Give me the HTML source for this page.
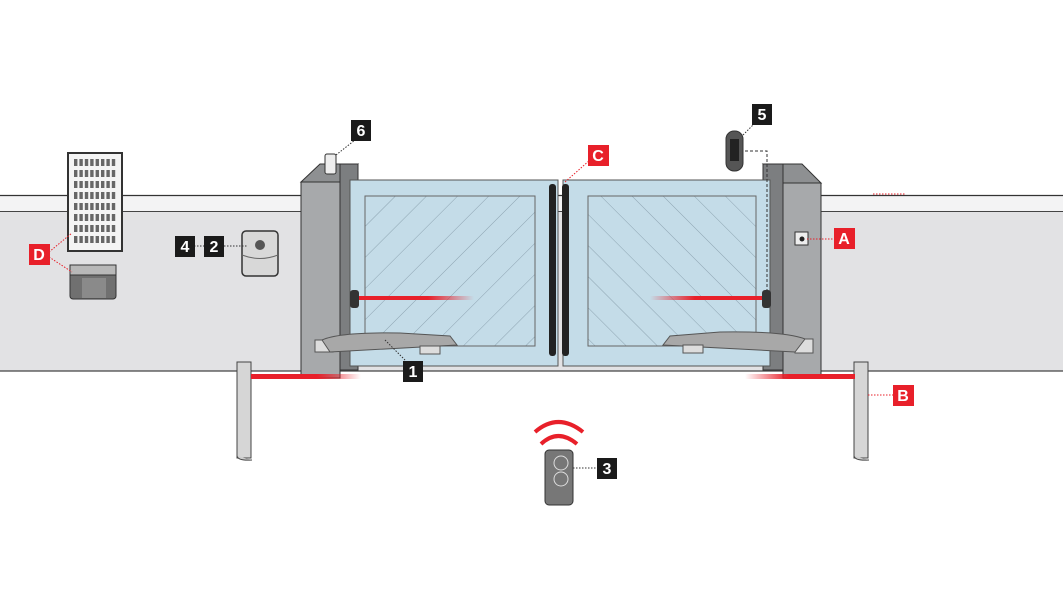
<!DOCTYPE html>
<html><head><meta charset="utf-8"><style>
html,body{margin:0;padding:0;background:#fff;width:1063px;height:591px;overflow:hidden}
text{font-family:"Liberation Sans",sans-serif;font-weight:bold;font-size:16px;fill:#fff}
</style></head><body>
<svg width="1063" height="591" viewBox="0 0 1063 591" xmlns="http://www.w3.org/2000/svg">
<defs>
<pattern id="h" patternUnits="userSpaceOnUse" width="22" height="22" patternTransform="rotate(45)">
<rect width="22" height="22" fill="#c4dce8"/><line x1="0" y1="0" x2="0" y2="22" stroke="#7f95a3" stroke-width="0.8"/></pattern>
<pattern id="h2" patternUnits="userSpaceOnUse" width="22" height="22" patternTransform="rotate(-45)">
<rect width="22" height="22" fill="#c4dce8"/><line x1="0" y1="0" x2="0" y2="22" stroke="#7f95a3" stroke-width="0.8"/></pattern>
<pattern id="cells" patternUnits="userSpaceOnUse" x="74" y="159" width="5.4" height="11">
<rect width="3.4" height="7" fill="#666"/></pattern>
<linearGradient id="rl" x1="0" x2="1"><stop offset="0" stop-color="#e8202a"/><stop offset="0.6" stop-color="#e8202a"/><stop offset="1" stop-color="#e8202a" stop-opacity="0"/></linearGradient>
<linearGradient id="rr" x1="1" x2="0"><stop offset="0" stop-color="#e8202a"/><stop offset="0.6" stop-color="#e8202a"/><stop offset="1" stop-color="#e8202a" stop-opacity="0"/></linearGradient>
</defs>
<rect x="0" y="195" width="1063" height="16" fill="#f3f3f4"/>
<rect x="0" y="211" width="1063" height="160" fill="#e2e2e4"/>
<line x1="0" y1="195.5" x2="1063" y2="195.5" stroke="#333" stroke-width="1.2"/>
<line x1="0" y1="211.5" x2="1063" y2="211.5" stroke="#444" stroke-width="1"/>
<line x1="0" y1="371" x2="1063" y2="371" stroke="#444" stroke-width="1.2"/>
<g>
<rect x="68" y="153" width="54" height="98" fill="#f4f4f4" stroke="#333" stroke-width="2"/>
<rect x="74" y="159" width="43" height="88" fill="url(#cells)"/>
<rect x="70" y="265" width="46" height="34" rx="3" fill="#707070" stroke="#333"/>
<rect x="70" y="265" width="46" height="10" fill="#b8b8b8" stroke="#333"/>
<rect x="82" y="278" width="24" height="20" fill="#8a8a8a"/>
</g>
<rect x="242" y="231" width="36" height="45" rx="4" fill="#d8d8d8" stroke="#333" stroke-width="1.5"/>
<path d="M242 255 Q260 262 278 255" stroke="#666" fill="none"/>
<circle cx="260" cy="245" r="5" fill="#555"/>
<polygon points="301,182 340,182 358,164 320,164" fill="#8e9092" stroke="#333"/>
<rect x="340" y="164" width="18" height="206" fill="#7c7e80" stroke="#333"/>
<rect x="301" y="182" width="39" height="196" fill="#a7a9ab" stroke="#333"/>
<rect x="325" y="154" width="11" height="20" rx="2" fill="#eee" stroke="#333"/>
<polygon points="763,164 802,164 821,183 783,183" fill="#8e9092" stroke="#333"/>
<rect x="763" y="164" width="20" height="206" fill="#7c7e80" stroke="#333"/>
<rect x="783" y="183" width="38" height="195" fill="#a7a9ab" stroke="#333"/>
<rect x="795" y="232" width="13" height="13" fill="#eee" stroke="#333"/><circle cx="802" cy="239" r="2.5" fill="#222"/>
<rect x="350" y="180" width="208" height="186" fill="#c4dce8" stroke="#555"/>
<rect x="365" y="196" width="170" height="150" fill="url(#h)" stroke="#666"/>
<rect x="563" y="180" width="207" height="186" fill="#c4dce8" stroke="#555"/>
<rect x="588" y="196" width="168" height="150" fill="url(#h2)" stroke="#666"/>
<rect x="549" y="184" width="7" height="172" rx="3" fill="#222"/>
<rect x="562" y="184" width="7" height="172" rx="3" fill="#222"/>
<rect x="350" y="290" width="9" height="18" rx="3" fill="#333"/>
<rect x="762" y="290" width="9" height="18" rx="3" fill="#333"/>
<rect x="359" y="296" width="115" height="4" fill="url(#rl)"/>
<rect x="650" y="296" width="112" height="4" fill="url(#rr)"/>
<rect x="315" y="340" width="18" height="12" fill="#ddd" stroke="#555"/>
<path d="M322 340 Q340 332 400 333 L450 336 L457 345 L330 352 Z" fill="#a8a8a8" stroke="#555"/>
<rect x="420" y="346" width="20" height="8" fill="#ddd" stroke="#555"/>
<rect x="795" y="339" width="18" height="14" fill="#ddd" stroke="#555"/>
<path d="M805 339 Q785 331 720 332 L670 336 L663 345 L795 352 Z" fill="#a8a8a8" stroke="#555"/>
<rect x="683" y="345" width="20" height="8" fill="#ddd" stroke="#555"/>
<rect x="726" y="131" width="17" height="40" rx="8" fill="#555" stroke="#333"/>
<rect x="730" y="139" width="9" height="22" fill="#222"/>
<path d="M745 151 H767 V294" stroke="#333" stroke-dasharray="3,2" fill="none"/>
<rect x="237" y="362" width="14" height="96" fill="#d6d6d6" stroke="#444"/>
<rect x="854" y="362" width="14" height="96" fill="#d6d6d6" stroke="#444"/>
<path d="M237 456 Q238 461 252 460" stroke="#444" fill="#ccc"/>
<path d="M854 456 Q855 461 869 460" stroke="#444" fill="#ccc"/>
<rect x="251" y="374" width="110" height="5" fill="url(#rl)"/>
<rect x="745" y="374" width="110" height="5" fill="url(#rr)"/>
<path d="M535 432 Q558 412 583 432" stroke="#e8202a" stroke-width="4" fill="none"/>
<path d="M541 444 Q558 428 577 444" stroke="#e8202a" stroke-width="4" fill="none"/>
<rect x="545" y="450" width="28" height="55" rx="4" fill="#777" stroke="#333"/>
<circle cx="561" cy="463" r="7" fill="none" stroke="#ddd"/><circle cx="561" cy="479" r="7" fill="none" stroke="#ddd"/>
<g stroke="#333" stroke-dasharray="1.5,1.5" fill="none">
<line x1="336" y1="155" x2="355" y2="140"/><line x1="743" y1="135" x2="756" y2="122"/>
<line x1="194" y1="246" x2="205" y2="246"/><line x1="224" y1="246" x2="248" y2="246"/>
<line x1="385" y1="340" x2="405" y2="360"/><line x1="573" y1="468" x2="597" y2="468"/>
</g>
<g stroke="#e8202a" stroke-dasharray="1.5,1.5" fill="none">
<line x1="49" y1="252" x2="72" y2="233"/><line x1="49" y1="257" x2="72" y2="272"/>
<line x1="565" y1="182" x2="590" y2="160"/><line x1="807" y1="239" x2="834" y2="239"/>
<line x1="868" y1="395" x2="893" y2="395"/><line x1="873" y1="194" x2="905" y2="194"/>
</g>
<g>
<rect x="351" y="120" width="20" height="21" fill="#1a1a1a"/><text x="361" y="136" text-anchor="middle">6</text>
<rect x="752" y="104" width="20" height="21" fill="#1a1a1a"/><text x="762" y="120" text-anchor="middle">5</text>
<rect x="175" y="236" width="20" height="21" fill="#1a1a1a"/><text x="185" y="252" text-anchor="middle">4</text>
<rect x="204" y="236" width="20" height="21" fill="#1a1a1a"/><text x="214" y="252" text-anchor="middle">2</text>
<rect x="403" y="361" width="20" height="21" fill="#1a1a1a"/><text x="413" y="377" text-anchor="middle">1</text>
<rect x="597" y="458" width="20" height="21" fill="#1a1a1a"/><text x="607" y="474" text-anchor="middle">3</text>
<rect x="588" y="145" width="21" height="21" fill="#e8202a"/><text x="598" y="161" text-anchor="middle">C</text>
<rect x="834" y="228" width="21" height="21" fill="#e8202a"/><text x="844" y="244" text-anchor="middle">A</text>
<rect x="893" y="385" width="21" height="21" fill="#e8202a"/><text x="903" y="401" text-anchor="middle">B</text>
<rect x="29" y="244" width="21" height="21" fill="#e8202a"/><text x="39" y="260" text-anchor="middle">D</text>
</g>
</svg>
</body></html>
